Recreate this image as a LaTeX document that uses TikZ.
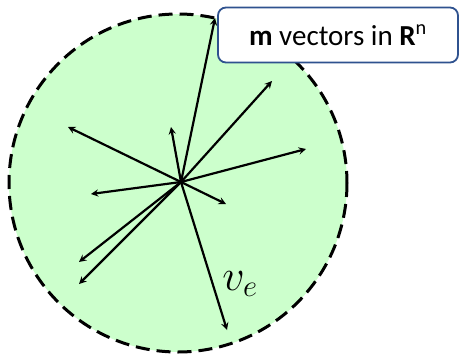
\RequirePackage{fix-cm}
\documentclass[tikz,border=0pt]{standalone}
\usepackage{fontspec}
\newfontfamily\boxfont{Carlito}
\definecolor{ballgreen}{RGB}{204,255,204}
\definecolor{boxblue}{RGB}{47,82,143}
\begin{document}
\begin{tikzpicture}[x=1pt, y=-1pt, line join=round, line cap=round, >=stealth]
	\useasboundingbox (0,0) rectangle (459,354);
	\path
	(178,183) coordinate (C)
	(181,182) coordinate (O)
	(215,18) coordinate (V1)
	(272,81) coordinate (V2)
	(68,127) coordinate (V3)
	(171,127) coordinate (V4)
	(306,149) coordinate (V5)
	(91,194) coordinate (V6)
	(226,204) coordinate (V7)
	(79,262) coordinate (V8)
	(79,284) coordinate (V9)
	(227,330) coordinate (V10)
	;
	\fill[ballgreen] (C) circle (169);
	\draw[line width=3pt, line cap=butt, dash pattern=on 14pt off 7pt] (C) circle (169);
	\foreach \v in {V1,V2,V3,V4,V5,V6,V7,V8,V9,V10}\draw[->, line width=2.2pt] (O)--(\v);
	\node[draw=boxblue, line width=1.8pt, fill=white, rounded corners=8pt, minimum width=240pt, minimum height=55pt, inner sep=0pt, font=\boxfont\fontsize{29}{29}\selectfont] (box) at (338,35) {\textbf{m} vectors in \textbf{R}\textsuperscript{n}};
	\node[font=\fontsize{44}{44}\selectfont] (ve) at (240,284) {$v_e$};
\end{tikzpicture}
\end{document}
